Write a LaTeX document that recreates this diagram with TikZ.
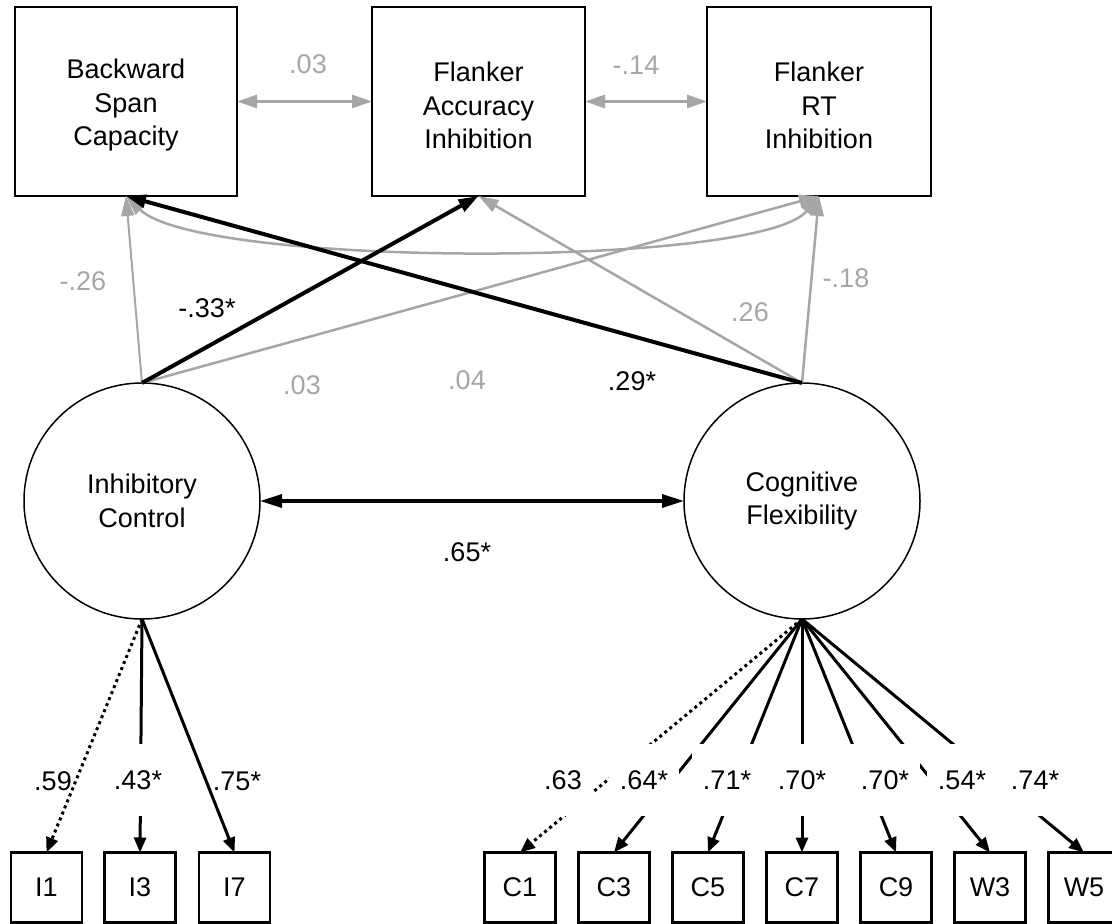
\documentclass[tikz,border=0pt]{standalone}
\usepackage{fontspec}
\setmainfont{Liberation Sans}
\usetikzlibrary{arrows.meta}
\definecolor{gr}{RGB}{166,166,166}
\begin{document}
\begin{tikzpicture}[x=1pt,y=-1pt,
  font=\fontsize{27}{33.5}\selectfont,
  bigbox/.style={draw, line width=2pt, outer sep=0pt, inner sep=0pt, minimum height=189pt},
  boxtext/.style={align=center, inner sep=0pt},
  latent/.style={draw, circle, line width=1.5pt, align=center, minimum size=236pt, inner sep=0pt, outer sep=0pt},
  smallbox/.style={draw, line width=2.5pt, minimum width=71pt, minimum height=70pt, inner sep=0pt, outer sep=0pt},
  lab/.style={inner sep=0pt},
  cover/.style={fill=white, minimum height=72pt, inner xsep=11pt, inner ysep=0pt},
  bigtip/.tip={Triangle[length=20pt,width=13pt]},
  smalltip/.tip={Triangle[length=15pt,width=12pt]},
  greyarrow/.style={draw=gr, line width=2.5pt, -bigtip},
  thingrey/.style={draw=gr, line width=2pt, -bigtip},
  blackarrow/.style={draw=black, line width=4pt, -bigtip},
  load/.style={draw=black, line width=3pt, -smalltip},
  dotload/.style={draw=black, line width=3pt, dash pattern=on 3pt off 3.5pt, -smalltip}
]
\useasboundingbox (0,0) rectangle (1112,924);

% top observed
\node[bigbox, minimum width=222pt] (b1) at (126,101.5) {};
\node[bigbox, minimum width=213pt] (b2) at (478.5,101.5) {};
\node[bigbox, minimum width=224pt] (b3) at (819,101.5) {};
\node[boxtext] (b1t) at (126,105.5) {Backward\\Span\\Capacity};
\node[boxtext] (b2t) at (478.5,105.5) {Flanker\\Accuracy\\Inhibition};
\node[boxtext] (b3t) at (819,105.5) {Flanker\\RT\\Inhibition};

% latents
\node[latent] (ic) at (142,501) {Inhibitory\\Control};
\node[latent] (cf) at (802,501) {Cognitive\\Flexibility};

% indicators
\node[smallbox] (i1) at (46.5,887.5) {I1};
\node[smallbox] (i3) at (140,887.5) {I3};
\node[smallbox] (i7) at (234.5,887.5) {I7};
\node[smallbox] (c1) at (520,887.5) {C1};
\node[smallbox] (c3) at (614,887.5) {C3};
\node[smallbox] (c5) at (708,887.5) {C5};
\node[smallbox] (c7) at (802,887.5) {C7};
\node[smallbox] (c9) at (896,887.5) {C9};
\node[smallbox] (w3) at (990,887.5) {W3};
\node[smallbox] (w5) at (1084,887.5) {W5};

% covariances among observed
\draw[draw=gr, line width=3pt, bigtip-bigtip] (b1.east) -- (b2.west);
\draw[draw=gr, line width=3pt, bigtip-bigtip] (b2.east) -- (b3.west);
\draw[draw=gr, line width=2.5pt, bigtip-bigtip] (b1.south) .. controls (200,268) and (760,268) .. (b3.south);

% regressions
\draw[thingrey] (ic.north) -- (b1.south);
\draw[greyarrow] (ic.north) -- (b3.south);
\draw[greyarrow] (cf.north) -- (b2.south);
\draw[greyarrow] (cf.north) -- (b3.south);
\draw[blackarrow] (ic.north) -- (b2.south);
\draw[blackarrow] (cf.north) -- (b1.south);

% latent covariance
\draw[draw=black, line width=3.5pt, {Triangle[length=22pt,width=13pt]}-{Triangle[length=22pt,width=13pt]}] (ic.east) -- (cf.west);

% loadings
\draw[dotload] (ic.south) -- (i1.north);
\draw[load] (ic.south) -- (i3.north);
\draw[load] (ic.south) -- (i7.north);
\draw[dotload] (cf.south) -- (c1.north);
\draw[load] (cf.south) -- (c3.north);
\draw[load] (cf.south) -- (c5.north);
\draw[load] (cf.south) -- (c7.north);
\draw[load] (cf.south) -- (c9.north);
\draw[load] (cf.south) -- (w3.north);
\draw[load] (cf.south) -- (w5.north);

% labels structural
\node[lab, text=gr] (lb12) at (308,64) {.03};
\node[lab, text=gr] (lb23) at (636,65) {-.14};
\node[lab, text=gr] (lic1) at (83,281) {-.26};
\node[lab] (lic2) at (207,308) {-.33*};
\node[lab, text=gr] (lic3) at (302,385) {.03};
\node[lab, text=gr] (lb13) at (467,380) {.04};
\node[lab] (lcf1) at (632,381) {.29*};
\node[lab, text=gr] (lcf2) at (750,312) {.26};
\node[lab, text=gr] (lcf3) at (846,278) {-.18};
\node[lab] (lcov) at (467,552) {.65*};

% loading labels
\node[lab] (li1) at (53,781) {.59};
\node[cover] (li3) at (138,780) {.43*};
\node[lab] (li7) at (237,781) {.75*};
\node[cover] (lc1) at (563,780) {.63};
\node[cover] (lc3) at (644,780) {.64*};
\node[cover] (lc5) at (727,780) {.71*};
\node[cover] (lc7) at (802,780) {.70*};
\node[cover, inner xsep=10.5pt] (lc9) at (885,780) {.70*};
\node[cover] (lw3) at (962,780) {.54*};
\node[cover, inner xsep=15pt] (lw5) at (1035,780) {.74*};
\end{tikzpicture}
\end{document}
